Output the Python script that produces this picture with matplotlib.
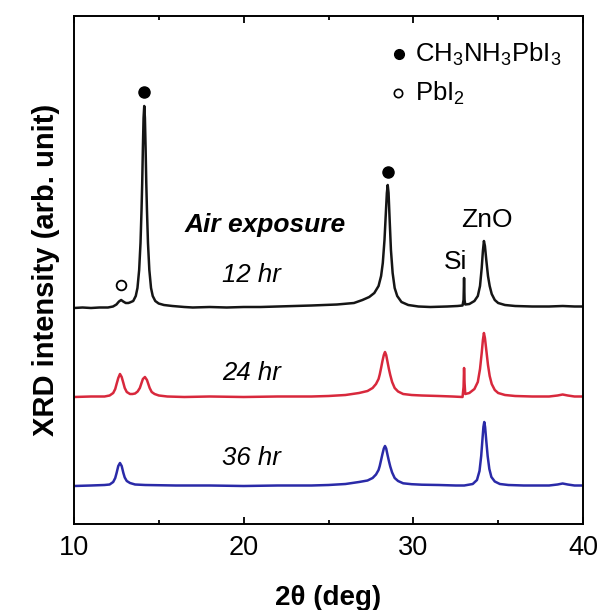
import matplotlib
matplotlib.use("Agg")
import matplotlib.pyplot as plt

plt.rcParams['font.family'] = ['Liberation Sans', 'DejaVu Sans']
plt.rcParams['mathtext.default'] = 'regular'

# 2theta / intensity (intensity relative to each baseline)
x_12 = [10.0, 10.5, 11.0, 11.5, 12.0, 12.3, 12.5, 12.65, 12.78, 12.9, 13.05, 13.2,
        13.29, 13.49, 13.64, 13.74, 13.84, 13.92, 13.98, 14.02, 14.06, 14.10, 14.14,
        14.18, 14.22, 14.26, 14.30, 14.36, 14.44, 14.54, 14.64, 14.79, 14.99, 15.3,
        15.8, 16.5, 17.0, 18.0, 19.0, 20.0, 21.0, 22.0, 23.0, 24.0, 25.5, 26.5, 27.0,
        27.4, 27.7, 27.95, 28.1, 28.2, 28.3, 28.38, 28.44, 28.49, 28.54, 28.6, 28.68,
        28.78, 28.9, 29.05, 29.3, 29.7, 30.3, 31.0, 32.0, 32.6, 32.9, 32.96, 32.99,
        33.02, 33.06, 33.3, 33.6, 33.8, 33.93, 34.03, 34.1, 34.16, 34.22, 34.3, 34.4,
        34.5, 34.62, 34.8, 35.0, 35.4, 36.0, 37.0, 38.0, 38.8, 39.5, 40.0]
y_12 = [0, 0.5, 0, 0.5, 0.5, 1.5, 3.5, 6.5, 8, 6.5, 5, 5,
        5.5, 7, 12, 20, 38, 65, 98, 125, 160, 190, 202,
        190, 160, 125, 98, 65, 38, 20, 12, 7, 4.5, 3,
        2, 1, 0.5, 1, 0.5, 1, 1, 1.5, 2, 2.5, 3.5, 5, 8,
        11, 15, 22, 32, 45, 68, 95, 115, 123, 115, 90, 58,
        35, 20, 12, 6, 3, 1.5, 1, 1.5, 2, 2.5, 8, 30,
        8, 3.5, 4, 7, 12, 22, 40, 57, 67, 62, 48, 32,
        22, 14, 8, 5, 3, 2, 1.5, 1.5, 2, 1.5, 1.5]

x_24 = [10.0, 11.0, 11.8, 12.1, 12.31, 12.43, 12.51, 12.61, 12.71, 12.81, 12.91, 12.99,
        13.11, 13.3, 13.45, 13.6, 13.75, 13.88, 13.96, 14.06, 14.18, 14.3, 14.4, 14.46,
        14.58, 14.75, 15.0, 15.5, 16.5, 18.0, 20.0, 22.0, 24.0, 25.0, 26.0, 26.8, 27.3,
        27.6, 27.8, 27.95, 28.02, 28.1, 28.18, 28.26, 28.33, 28.4, 28.48, 28.56, 28.64,
        28.75, 28.9, 29.1, 29.4, 29.9, 30.5, 31.5, 32.3, 32.9, 32.96, 32.99, 33.02, 33.06,
        33.3, 33.6, 33.8, 33.93, 34.03, 34.1, 34.16, 34.22, 34.3, 34.4, 34.5, 34.62,
        34.8, 35.0, 35.4, 36.0, 37.0, 38.0, 38.5, 38.8, 39.1, 39.5, 40.0]
y_24 = [0, 0.5, 0.5, 1.5, 4, 8, 13, 19, 23, 20, 14, 9,
        5, 3, 3, 3.5, 5.5, 9, 13, 18, 20, 17, 12, 9,
        5, 3, 1.5, 0.5, 0, 0.5, 0, 0.5, 0.5, 1, 2, 4, 6,
        9, 13, 18, 22.5, 29, 36, 42, 45, 42, 35, 28, 22,
        15, 9, 5.5, 3, 2, 1.5, 1, 0.5, 0, 10, 29, 14, 3,
        4, 8, 15, 28, 44, 57, 64, 59, 47, 32, 21, 13,
        7, 4, 2, 1, 0.5, 0.5, 1.5, 2.5, 1.5, 0.5, 0.5]

x_36 = [10.0, 11.0, 11.8, 12.1, 12.31, 12.43, 12.51, 12.61, 12.71, 12.81, 12.91, 12.99,
        13.11, 13.3, 13.6, 14.2, 16.0, 18.0, 20.0, 22.0, 24.0, 25.0, 26.0, 26.8, 27.3,
        27.6, 27.8, 27.95, 28.02, 28.1, 28.18, 28.26, 28.33, 28.4, 28.48, 28.56, 28.64,
        28.75, 28.9, 29.1, 29.4, 29.9, 30.5, 31.5, 32.5, 33.0, 33.5, 33.75, 33.9, 34.0,
        34.08, 34.13, 34.18, 34.23, 34.3, 34.38, 34.48, 34.6, 34.8, 35.1, 35.6, 36.5,
        38.0, 38.5, 38.8, 39.1, 39.5, 40.0]
y_36 = [0, 0.5, 1, 1.5, 4, 8, 13, 20, 23, 20, 13, 8.5,
        5, 3, 1.5, 1, 0.5, 0.5, 0, 0.5, 0.5, 1, 2, 4, 5.5,
        8, 11.5, 16, 20, 26, 32, 37.5, 40, 37.5, 31, 25, 19.5,
        13.5, 8, 5, 2.7, 1.8, 1.3, 1, 0.5, 0.5, 2, 6, 15, 30,
        48, 59, 64, 59, 45, 30, 17, 9, 4.5, 2, 1, 0.5,
        0.5, 1.5, 2.5, 1.5, 0.5, 0.5]

offsets = [216, 127, 38]
colors = ['#151515', '#d8283c', '#2a2aa8']
hours = ['12 hr', '24 hr', '36 hr']

fig = plt.figure(figsize=(6.01, 6.10), dpi=100)
ax = fig.add_axes([74/601, 1-524/610, 509/601, 508/610])

for xs, ys, off, c in zip([x_12, x_24, x_36], [y_12, y_24, y_36], offsets, colors):
    ax.plot(xs, [v + off for v in ys], color=c, lw=1.8)

# phase markers
ax.plot([14.14, 28.49], [432, 352], 'o', color='black', ms=8)
ax.plot([12.78], [239], 'o', mfc='white', mec='black', mew=1.3, ms=7)

# legend
ax.plot([29.15], [470], 'o', color='black', ms=7)
ax.plot([29.1], [431], 'o', mfc='white', mec='black', mew=1.2, ms=6)
ax.text(30.1, 470, 'CH$_3$NH$_3$PbI$_3$', fontsize=18.5, va='center', ha='left')
ax.text(30.1, 431, 'PbI$_2$', fontsize=18.5, va='center', ha='left')

ax.text(21.26, 299, 'Air exposure', fontsize=19, fontweight='bold', fontstyle='italic',
        ha='center', va='center')
for lab, yy in zip(hours, [249, 151, 66]):
    ax.text(20.45, yy, lab, fontsize=18.5, fontstyle='italic', ha='center', va='center')
ax.text(34.34, 304, 'ZnO', fontsize=19, ha='center', va='center')
ax.text(32.51, 262, 'Si', fontsize=19, ha='center', va='center')

ax.set_xlim(10, 40)
ax.set_ylim(0, 508)
ax.set_xticks([10, 20, 30, 40])
ax.set_xticks([15, 25, 35], minor=True)
ax.set_yticks([])
ax.tick_params(axis='x', which='both', direction='in', top=True, labelsize=19.5, pad=8, width=1.3)
ax.tick_params(axis='x', which='major', length=5)
ax.tick_params(axis='x', which='minor', length=3)
for s in ax.spines.values():
    s.set_linewidth(1.4)

ax.set_xlabel('2θ (deg)', fontsize=20, fontweight='bold', labelpad=17)
ax.set_ylabel('XRD intensity (arb. unit)', fontsize=21, fontweight='bold', labelpad=10)

fig.savefig('out.png', dpi=100)
